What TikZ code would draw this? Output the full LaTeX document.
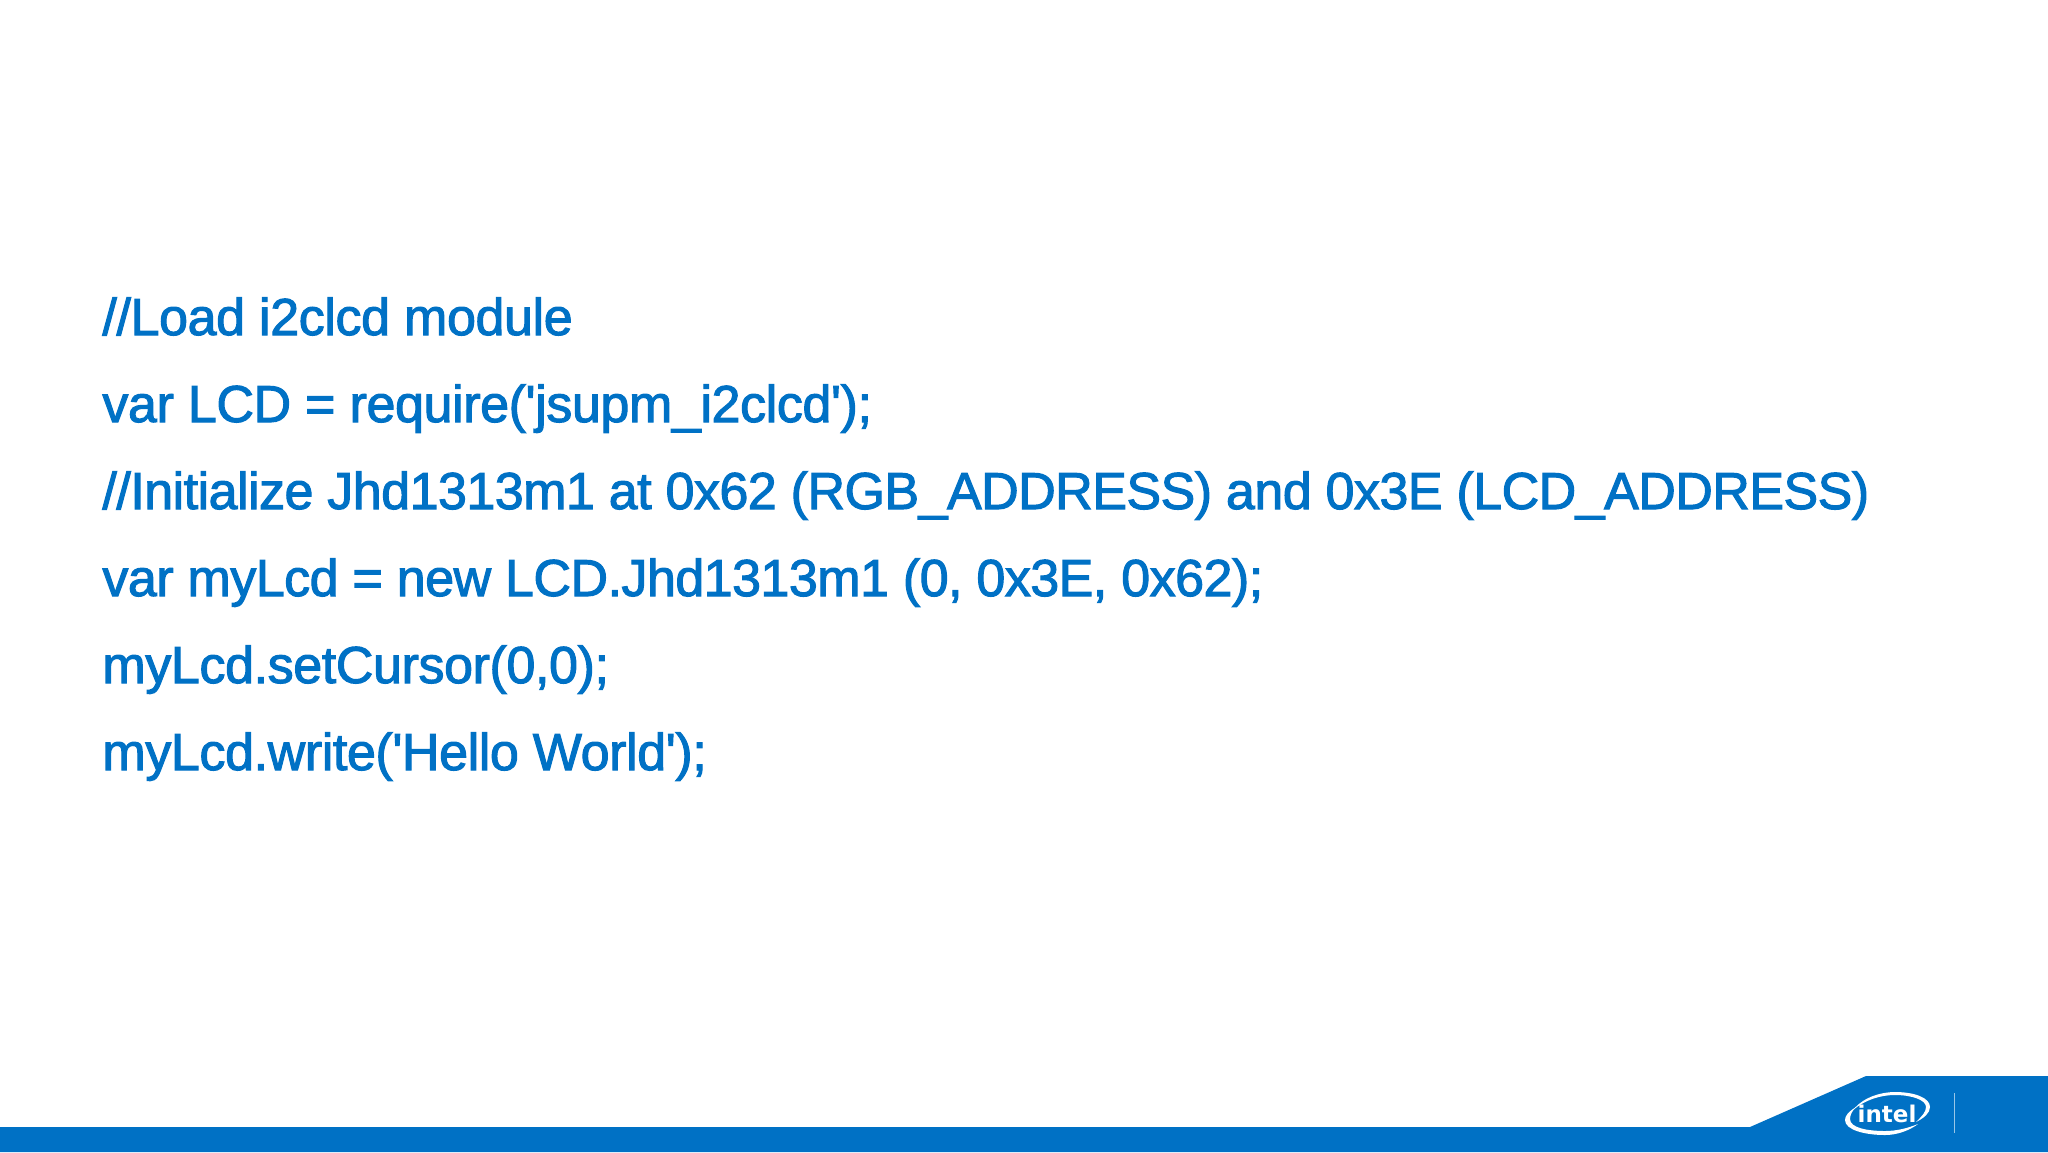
\documentclass[tikz,border=0pt]{standalone}
\usepackage{fontspec}
\newfontfamily\slidefont[LetterSpace=-0.75,FakeBold=2]{Liberation Sans}
\newfontfamily\slidefonttight[LetterSpace=-1,FakeBold=2]{Liberation Sans}
\newfontfamily\logofont{DejaVu Sans}
\definecolor{intelblue}{RGB}{0,113,197}
\tikzset{
  codeline/.style={anchor=base west, inner sep=0pt, text=intelblue, font=\slidefont\fontsize{26}{30}\selectfont},
  tightline/.style={codeline, font=\slidefonttight\fontsize{26}{30}\selectfont},
  swoosh/.style={fill=white, draw=none}
}
\begin{document}
\begin{tikzpicture}[x=0.5pt,y=-0.5pt]
\useasboundingbox (0,0) rectangle (2048,1152);
% code lines
\node[codeline] (line1) at (102,335) {//Load i2clcd module};
\node[codeline] (line2) at (102,422) {var LCD = require('jsupm\_i2clcd');};
\node[tightline] (line3) at (102,509) {//Initialize Jhd1313m1 at 0x62 (RGB\_ADDRESS) and 0x3E (LCD\_ADDRESS)};
\node[tightline] (line4) at (102,596) {var myLcd = new LCD.Jhd1313m1 (0, 0x3E, 0x62);};
\node[codeline] (line5) at (102,683) {myLcd.setCursor(0,0);};
\node[codeline] (line6) at (102,770) {myLcd.write('Hello World');};
% bottom band
\fill [intelblue] (0,1152) -- (0,1127) -- (1750,1127) -- (1866,1076) -- (2048,1076) -- (2048,1152) -- cycle;
% logo
\node[anchor=base, inner sep=0pt, text=white, font=\logofont\bfseries\fontsize{11.5}{12}\selectfont] (logo) at (1887,1122) {intel};
\fill [swoosh] (1853,1110) .. controls (1865,1095) and (1885,1092) .. (1895,1092) .. controls (1915,1092) and (1930,1098) .. (1930,1107) .. controls (1930,1113) and (1924,1118) .. (1916,1122) .. controls (1922,1116) and (1926,1112) .. (1926,1107) .. controls (1926,1100) and (1912,1095) .. (1895,1095) .. controls (1880,1095) and (1865,1100) .. (1853,1110) -- cycle;
\fill [swoosh] (1856,1107) .. controls (1848,1112) and (1845,1116) .. (1845,1120) .. controls (1845,1130) and (1865,1135) .. (1885,1135) .. controls (1898,1135) and (1910,1130) .. (1918,1124) .. controls (1908,1128) and (1897,1131) .. (1885,1131) .. controls (1868,1131) and (1850,1128) .. (1850,1119) .. controls (1850,1115) and (1852,1111) .. (1856,1107) -- cycle;
\draw [white, opacity=0.6, line width=0.5pt] (1954,1093) -- (1954,1133);
\end{tikzpicture}
\end{document}
